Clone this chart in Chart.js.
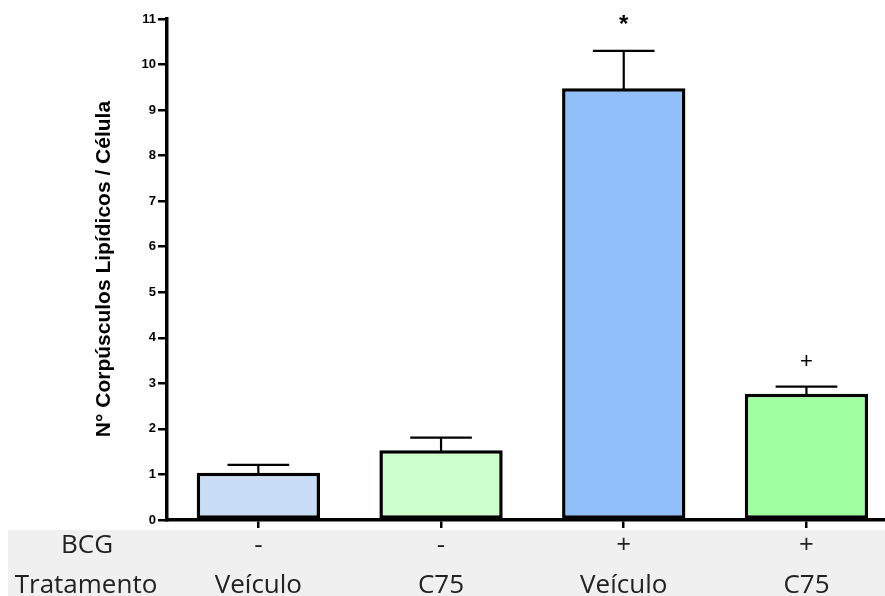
<!DOCTYPE html>
<html>
<head>
<meta charset="utf-8">
<script src="https://cdn.jsdelivr.net/npm/chart.js@4/dist/chart.umd.min.js"></script>
<style>
  html, body { margin: 0; padding: 0; background: #fff; overflow: hidden; }
  #chart { display: block; }
</style>
</head>
<body>
<canvas id="chart" width="885" height="596"></canvas>
<script>
// groups: BCG stimulation and treatment
const bcgRow = ['-', '-', '+', '+'];
const treatmentRow = ['Veículo', 'C75', 'Veículo', 'C75'];
const means = [1.04, 1.53, 9.48, 2.77];
const sems = [0.17, 0.28, 0.82, 0.16];
const significance = ['', '', '*', '+'];
const barColors = ['#c9ddf6', '#ccffcc', '#91bff9', '#a0ff9f'];
const yTicks = [0, 1, 2, 3, 4, 5, 6, 7, 8, 9, 10, 11];

const tableFont = '"Open Sans", sans-serif';
const axisFont = 'Arial, "Liberation Sans", sans-serif';

// gray band with BCG / treatment rows under the x axis
const tablePlugin = {
  id: 'groupTable',
  beforeDraw(chart) {
    const { ctx, width, height } = chart;
    ctx.save();
    ctx.fillStyle = '#fff';
    ctx.fillRect(0, 0, width, height);
    ctx.fillStyle = '#f0f0f0';
    ctx.fillRect(8, 530, width - 8, height - 530);
    ctx.restore();
  },
  afterDraw(chart) {
    const { ctx } = chart;
    const x = chart.scales.x;
    ctx.save();
    ctx.fillStyle = '#222';
    ctx.textAlign = 'center';
    ctx.textBaseline = 'alphabetic';
    ctx.font = '26px ' + tableFont;
    ctx.fillText('BCG', 87, 553);
    ctx.fillText('Tratamento', 86, 593);
    bcgRow.forEach((s, i) => {
      ctx.fillText(s, x.getPixelForValue(i), 553);
    });
    treatmentRow.forEach((s, i) => {
      ctx.fillText(s, x.getPixelForValue(i), 593);
    });

    // y axis title
    ctx.fillStyle = '#000';
    ctx.font = 'bold 21px ' + axisFont;
    ctx.translate(104, 269);
    ctx.rotate(-Math.PI / 2);
    ctx.textBaseline = 'middle';
    ctx.fillText('N° Corpúsculos Lipídicos / Célula', 0, 0);
    ctx.restore();
  }
};

// SEM whiskers and significance marks
const errorBarPlugin = {
  id: 'errorBars',
  afterDatasetsDraw(chart) {
    const { ctx } = chart;
    const y = chart.scales.y;
    const meta = chart.getDatasetMeta(0);
    ctx.save();
    ctx.strokeStyle = '#000';
    ctx.lineWidth = 2.2;
    meta.data.forEach((bar, i) => {
      const top = y.getPixelForValue(means[i] + sems[i]);
      const half = bar.width / 4;
      ctx.beginPath();
      ctx.moveTo(bar.x, bar.y + 2);
      ctx.lineTo(bar.x, top);
      ctx.moveTo(bar.x - half, top);
      ctx.lineTo(bar.x + half, top);
      ctx.stroke();
      if (significance[i]) {
        ctx.fillStyle = '#000';
        ctx.textAlign = 'center';
        ctx.textBaseline = 'middle';
        if (significance[i] === '*') {
          ctx.font = 'bold 24px ' + axisFont;
          ctx.fillText('*', bar.x, top - 26);
        } else {
          ctx.font = '22px ' + axisFont;
          ctx.fillText('+', bar.x, top - 25);
        }
      }
    });
    ctx.restore();
  }
};

new Chart(document.getElementById('chart'), {
  type: 'bar',
  data: {
    datasets: [{
      data: means.map((v, i) => ({ x: i, y: v })),
      backgroundColor: barColors,
      borderColor: '#000',
      borderWidth: 3.5,
      borderSkipped: false,
      categoryPercentage: 1,
      barPercentage: 0.675
    }]
  },
  options: {
    responsive: false,
    animation: false,
    layout: { padding: { top: 19, left: 0, right: 0, bottom: 0 } },
    plugins: {
      legend: { display: false },
      tooltip: { enabled: false }
    },
    scales: {
      x: {
        type: 'linear',
        offset: false,
        min: -0.5,
        max: 3.43,
        afterBuildTicks: (scale) => {
          scale.ticks = bcgRow.map((_, i) => ({ value: i }));
        },
        afterFit: (scale) => { scale.height = 76; },
        ticks: { display: false },
        border: { color: '#000', width: 3.5 },
        grid: {
          offset: false,
          drawOnChartArea: false,
          drawTicks: true,
          tickLength: 8,
          color: '#000',
          lineWidth: 2.5
        }
      },
      y: {
        min: 0,
        max: 11,
        afterBuildTicks: (scale) => {
          scale.ticks = yTicks.map((v) => ({ value: v }));
        },
        afterFit: (scale) => { scale.width = 167; },
        ticks: {
          color: '#000',
          padding: 2,
          font: { family: axisFont, size: 13, weight: 'bold' }
        },
        border: { color: '#000', width: 3.5 },
        grid: {
          drawOnChartArea: false,
          drawTicks: true,
          tickLength: 9,
          color: '#000',
          lineWidth: 2.5
        }
      }
    }
  },
  plugins: [tablePlugin, errorBarPlugin]
});
</script>
</body>
</html>
